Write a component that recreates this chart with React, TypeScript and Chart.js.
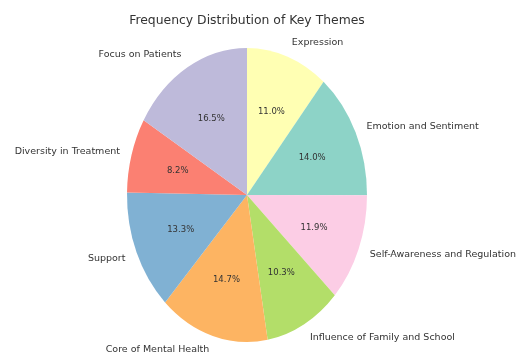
import React, { useEffect, useRef } from "react";
import { Chart, registerables } from "chart.js";

Chart.register(...registerables);

const titleText = "Frequency Distribution of Key Themes";
const categories = [
  "Expression",
  "Emotion and Sentiment",
  "Self-Awareness and Regulation",
  "Influence of Family and School",
  "Core of Mental Health",
  "Support",
  "Diversity in Treatment",
  "Focus on Patients",
];
const shares = [11.0, 14.0, 11.9, 10.3, 14.7, 13.3, 8.2, 16.5];
const colors = ["#ffffb3", "#8dd3c7", "#fccde5", "#b3de69", "#fdb462", "#80b1d3", "#fb8072", "#bebada"];

const Y_STRETCH = 1.225;
const FONT = "'DejaVu Sans', sans-serif";

const ellipsePlugin = {
  id: "ellipsePie",
  beforeDatasetsDraw(chart: any) {
    const meta = chart.getDatasetMeta(0);
    const a = meta.data[0];
    if (!a) return;
    const ctx = chart.ctx;
    ctx.save();
    ctx.translate(a.x, a.y);
    ctx.scale(1, Y_STRETCH);
    ctx.translate(-a.x, -a.y);
  },
  afterDatasetsDraw(chart: any) {
    const ctx = chart.ctx;
    ctx.restore();
    const meta = chart.getDatasetMeta(0);
    ctx.save();
    meta.data.forEach((arc: any, i: number) => {
      const mid = (arc.startAngle + arc.endAngle) / 2;
      const r = arc.outerRadius;
      const c = Math.cos(mid);
      const s = Math.sin(mid);
      ctx.font = `9.5px ${FONT}`;
      ctx.fillStyle = "#333";
      ctx.textBaseline = "middle";
      ctx.textAlign = c >= 0 ? "left" : "right";
      ctx.fillText(categories[i], arc.x + c * r * 1.1, arc.y + s * r * 1.1 * Y_STRETCH);
      ctx.font = `8.5px ${FONT}`;
      ctx.textAlign = "center";
      ctx.fillText(shares[i].toFixed(1) + "%", arc.x + c * r * 0.6, arc.y + s * r * 0.6 * Y_STRETCH);
    });
    ctx.font = `12.4px ${FONT}`;
    ctx.fillStyle = "#333";
    ctx.textAlign = "center";
    ctx.textBaseline = "middle";
    const a0 = meta.data[0];
    ctx.fillText(titleText, a0.x, 21);
    ctx.restore();
  },
};

export default function App() {
  const ref = useRef<HTMLCanvasElement | null>(null);
  useEffect(() => {
    if (!ref.current) return;
    const chart = new Chart(ref.current, {
      type: "pie",
      data: {
        labels: categories,
        datasets: [
          {
            data: shares,
            backgroundColor: colors,
            borderWidth: 0,
          },
        ],
      },
      options: {
        animation: false,
        responsive: true,
        maintainAspectRatio: false,
        events: [],
        layout: { padding: { left: 127, right: 150, top: 75, bottom: 43 } },
        plugins: {
          legend: { display: false },
          title: { display: false },
          tooltip: { enabled: false },
        },
      },
      plugins: [ellipsePlugin],
    });
    return () => chart.destroy();
  }, []);
  return (
    <div style={{ position: "absolute", left: 0, top: 0, width: 517, height: 358, background: "#fff" }}>
      <canvas ref={ref} />
    </div>
  );
}
